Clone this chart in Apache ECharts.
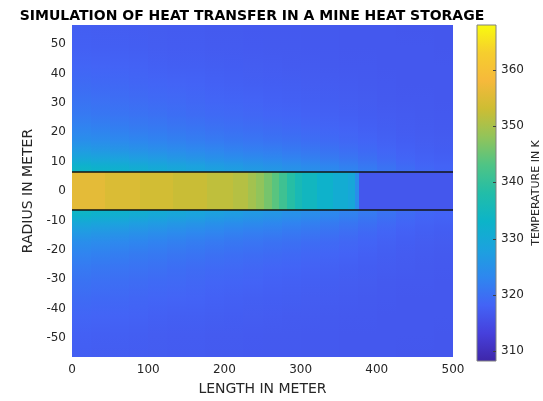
<!DOCTYPE html>
<html lang="en" style="height: 100%">
<head>
  <meta charset="utf-8">
  <title>Heat transfer in a mine heat storage</title>
</head>
<body style="height: 100%; margin: 0">
  <div id="container" style="width: 543px; height: 401px"></div>

  <script type="text/javascript" src="https://cdn.jsdelivr.net/npm/echarts@6/dist/echarts.min.js"></script>
  <script type="text/javascript">
    var dom = document.getElementById('container');
    var myChart = echarts.init(dom, null, { renderer: 'canvas' });

    // pipe (|r| < pipeRadius): temperature along the length, K
    const pipeRadius = 6.4;
    const pipeEdges = [0, 43, 89, 133, 177, 211, 231, 242, 252, 262, 272, 282, 292, 302, 322, 342, 362, 371, 377, 500];
    const pipeTemps = [355.9, 354.6, 353.6, 352.7, 351.9, 351.0, 349.5, 348.0, 346.0, 343.8, 341.3, 338.5, 336.0, 334.5, 332.5, 330.8, 329.6, 324.5, 316.4];

    // surrounding rock, same above and below the pipe (rows go outward from the pipe)
    const rockEdgesX = [0, 25, 50, 75, 100, 125, 150, 175, 200, 225, 250, 275, 300, 325, 350, 375, 400, 425, 450, 475, 500];
    const rockEdgesR = [6.4, 8.5, 11, 14, 17.5, 21.5, 26, 31, 36.5, 42.5, 49, 56.5];
    const rockTemps = [
      [334.0, 333.3, 332.5, 331.7, 330.9, 330.1, 329.3, 328.5, 327.8, 327.1, 326.4, 325.6, 324.8, 323.9, 322.9, 321.7, 320.5, 319.5, 318.8, 318.3],
      [331.0, 330.4, 329.7, 328.9, 328.2, 327.5, 326.8, 326.1, 325.5, 324.9, 324.3, 323.6, 323.0, 322.2, 321.4, 320.5, 319.6, 318.8, 318.2, 317.9],
      [328.1, 327.5, 326.9, 326.3, 325.7, 325.1, 324.5, 323.9, 323.4, 322.9, 322.5, 321.9, 321.4, 320.8, 320.2, 319.5, 318.8, 318.2, 317.8, 317.5],
      [325.4, 325.0, 324.4, 323.9, 323.5, 323.0, 322.5, 322.0, 321.6, 321.2, 320.9, 320.5, 320.1, 319.6, 319.1, 318.6, 318.1, 317.7, 317.4, 317.2],
      [323.5, 323.1, 322.7, 322.2, 321.8, 321.4, 321.1, 320.7, 320.4, 320.0, 319.7, 319.4, 319.1, 318.7, 318.4, 318.0, 317.6, 317.3, 317.1, 317.0],
      [321.9, 321.6, 321.2, 320.9, 320.5, 320.2, 319.9, 319.6, 319.3, 319.1, 318.8, 318.6, 318.3, 318.1, 317.8, 317.5, 317.3, 317.1, 316.9, 316.8],
      [320.7, 320.4, 320.1, 319.8, 319.6, 319.3, 319.0, 318.8, 318.6, 318.4, 318.2, 318.0, 317.8, 317.6, 317.4, 317.2, 317.0, 316.9, 316.8, 316.7],
      [319.7, 319.4, 319.2, 319.0, 318.8, 318.6, 318.4, 318.2, 318.0, 317.9, 317.7, 317.6, 317.4, 317.3, 317.1, 317.0, 316.8, 316.7, 316.7, 316.6],
      [318.8, 318.6, 318.4, 318.3, 318.1, 317.9, 317.8, 317.7, 317.5, 317.4, 317.3, 317.2, 317.1, 317.0, 316.9, 316.8, 316.7, 316.6, 316.6, 316.6],
      [318.0, 317.9, 317.8, 317.7, 317.5, 317.4, 317.3, 317.2, 317.2, 317.1, 317.0, 316.9, 316.9, 316.8, 316.7, 316.7, 316.6, 316.6, 316.6, 316.5],
      [317.4, 317.3, 317.3, 317.2, 317.1, 317.0, 317.0, 316.9, 316.9, 316.8, 316.8, 316.8, 316.7, 316.7, 316.6, 316.6, 316.6, 316.5, 316.5, 316.5]
    ];

    // colour limits and ticks of the colorbar
    const tempMin = 308.2;
    const tempMax = 368;
    const tempTicks = [310, 320, 330, 340, 350, 360];
    const parula = ['#3E26A8', '#4640DC', '#4363F6', '#2E87EF', '#1CA2DE', '#0CB4C8', '#22BDA8',
                    '#4FC485', '#92C45A', '#CDBD33', '#F6B93B', '#F6CE2E', '#F9FB0E'];

    // cells: [x0, x1, y0, y1, T, row (-1 = pipe), col, side]
    const cells = [];
    for (let k = 0; k < rockTemps.length; k++) {
      for (let i = 0; i < rockTemps[k].length; i++) {
        const t = rockTemps[k][i];
        cells.push([rockEdgesX[i], rockEdgesX[i + 1], rockEdgesR[k], rockEdgesR[k + 1], t, k, i, 1]);
        cells.push([rockEdgesX[i], rockEdgesX[i + 1], -rockEdgesR[k + 1], -rockEdgesR[k], t, k, i, -1]);
      }
    }
    for (let i = 0; i < pipeTemps.length; i++) {
      cells.push([pipeEdges[i], pipeEdges[i + 1], -pipeRadius, pipeRadius, pipeTemps[i], -1, i, 0]);
    }

    function tempColor(t) {
      return echarts.color.lerp((t - tempMin) / (tempMax - tempMin), parula);
    }

    // shade each rock cell between its neighbours in r (like MATLAB 'shading interp')
    function renderCell(params, api) {
      const a = api.coord([api.value(0), api.value(3)]);
      const b = api.coord([api.value(1), api.value(2)]);
      const x = Math.round(a[0]), y = Math.round(a[1]);
      const shape = { x: x, y: y, width: Math.round(b[0]) - x, height: Math.round(b[1]) - y };
      const k = api.value(5), i = api.value(6), side = api.value(7), t = api.value(4);
      let fill = tempColor(t);
      if (k >= 0) {
        const tIn = k === 0 ? t : (t + rockTemps[k - 1][i]) / 2;
        const tOut = k === rockTemps.length - 1 ? t : (t + rockTemps[k + 1][i]) / 2;
        const top = side > 0 ? tOut : tIn;
        const bottom = side > 0 ? tIn : tOut;
        fill = new echarts.graphic.LinearGradient(0, 0, 0, 1, [
          { offset: 0, color: tempColor(top) },
          { offset: 1, color: tempColor(bottom) }
        ]);
      }
      return { type: 'rect', shape: shape, style: { fill: fill } };
    }

    // colorbar: one bar from tempMin to tempMax on its own axis, ticks inside on the right
    function renderBar(params, api) {
      const a = api.coord([0, api.value(1)]);
      const b = api.coord([1, api.value(0)]);
      const stops = parula.map(function (c, j) {
        return { offset: 1 - j / (parula.length - 1), color: c };
      }).reverse();
      const children = [{
        type: 'rect',
        shape: { x: a[0], y: a[1], width: b[0] - a[0], height: b[1] - a[1] },
        style: { fill: new echarts.graphic.LinearGradient(0, 0, 0, 1, stops), stroke: '#808080', lineWidth: 1 }
      }];
      tempTicks.forEach(function (v) {
        const p = api.coord([1, v]);
        const y = Math.round(p[1]) + 0.5;
        children.push({
          type: 'line',
          shape: { x1: p[0] - 3, y1: y, x2: p[0], y2: y },
          style: { stroke: '#404040', lineWidth: 1 }
        });
      });
      return { type: 'group', children: children };
    }

    const font = 'DejaVu Sans';
    const ink = '#262626';
    const tenFormatter = function (v) { return Math.abs(v % 10) < 1e-6 ? String(v) : ''; };

    var option = {
      animation: false,
      textStyle: { fontFamily: font },
      title: {
        text: 'SIMULATION OF HEAT TRANSFER IN A MINE HEAT STORAGE',
        left: 247,
        textAlign: 'center',
        top: 4,
        textStyle: { fontFamily: font, fontSize: 14, fontWeight: 'bold', color: '#000' }
      },
      grid: [
        { left: 72, top: 25, width: 381, height: 336 },
        { left: 477, top: 25, width: 20, height: 336 }
      ],
      xAxis: [
        {
          type: 'value', gridIndex: 0, min: 0, max: 500, interval: 100,
          name: 'LENGTH IN METER', nameLocation: 'middle', nameGap: 25,
          nameTextStyle: { fontSize: 14, color: ink },
          axisLine: { show: false }, axisTick: { show: false }, splitLine: { show: false },
          axisLabel: { fontSize: 12, color: ink, margin: 7 }
        },
        { type: 'value', gridIndex: 1, show: false, min: 0, max: 1 }
      ],
      yAxis: [
        {
          type: 'value', gridIndex: 0, min: -56.5, max: 56.5, splitNumber: 11,
          name: 'RADIUS IN METER', nameLocation: 'middle', nameGap: 33,
          nameTextStyle: { fontSize: 14, color: ink },
          axisLine: { show: false }, axisTick: { show: false }, splitLine: { show: false },
          axisLabel: { fontSize: 12, color: ink, margin: 6, formatter: tenFormatter }
        },
        {
          type: 'value', gridIndex: 1, position: 'right', min: tempMin, max: tempMax, splitNumber: 6,
          name: 'TEMPERATURE IN K', nameLocation: 'middle', nameGap: 35, nameRotate: 90,
          nameTextStyle: { fontSize: 11, color: ink },
          axisLine: { show: false }, axisTick: { show: false }, splitLine: { show: false },
          axisLabel: { fontSize: 12, color: ink, margin: 5, formatter: tenFormatter }
        }
      ],
      series: [
        {
          type: 'custom',
          xAxisIndex: 0,
          yAxisIndex: 0,
          renderItem: renderCell,
          encode: { x: [0, 1], y: [2, 3] },
          data: cells,
          clip: true,
          z: 1
        },
        {
          type: 'line',
          xAxisIndex: 0,
          yAxisIndex: 0,
          data: [],
          markLine: {
            silent: true,
            symbol: 'none',
            label: { show: false },
            lineStyle: { color: '#141414', width: 1.5, type: 'solid' },
            data: [{ yAxis: pipeRadius }, { yAxis: -pipeRadius }]
          },
          z: 5
        },
        {
          type: 'custom',
          xAxisIndex: 1,
          yAxisIndex: 1,
          renderItem: renderBar,
          encode: { y: [0, 1] },
          data: [[tempMin, tempMax]],
          silent: true,
          z: 1
        }
      ]
    };

    myChart.setOption(option);
    window.addEventListener('resize', myChart.resize);
  </script>
</body>
</html>
